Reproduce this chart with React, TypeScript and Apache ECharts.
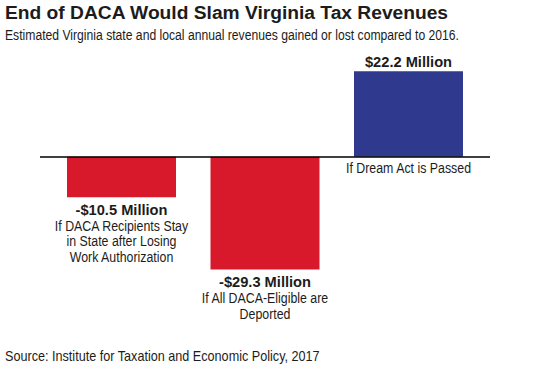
import React, { useEffect, useRef } from "react";
import * as echarts from "echarts";

const categories = [
  "If DACA Recipients Stay\nin State after Losing\nWork Authorization",
  "If All DACA-Eligible are\nDeported",
  "If Dream Act is Passed",
];
const values = [-10.5, -29.3, 22.2];
const valueLabels = ["-$10.5 Million", "-$29.3 Million", "$22.2 Million"];
const barColors = ["#d8192b", "#d8192b", "#2f3a8f"];
const titleText = "End of DACA Would Slam Virginia Tax Revenues";
const subtitleText = "Estimated Virginia state and local annual revenues gained or lost compared to 2016.";
const sourceText = "Source: Institute for Taxation and Economic Policy, 2017";

const FAMILY = "'Liberation Sans', Arial, Helvetica, sans-serif";
const TEXT_COLOR = "#1c1c1c";

function measure(text: string, font: string): number {
  const c = document.createElement("canvas").getContext("2d")!;
  c.font = font;
  return c.measureText(text).width;
}
function fit(text: string, size: number, weight: string, target: number): number {
  const w = measure(text, `${weight} ${size}px ${FAMILY}`);
  return w > 0 ? target / w : 1;
}

export default function App() {
  const ref = useRef<HTMLDivElement>(null);
  useEffect(() => {
    const chart = echarts.init(ref.current!, null, { renderer: "svg" });

    const REG = 14.5;
    const BOLD = 15;
    const regScale = fit("If DACA Recipients Stay", REG, "normal", 134);
    const boldScale = fit("-$10.5 Million", BOLD, "bold", 92);

    const txt = (
      text: string,
      x: number,
      y: number,
      size: number,
      weight: string,
      sx: number,
      align: string
    ) => ({
      type: "text",
      x,
      y,
      scaleX: sx,
      silent: true,
      style: {
        text,
        fontFamily: FAMILY,
        fontSize: size,
        fontWeight: weight,
        fill: TEXT_COLOR,
        align,
        verticalAlign: "middle",
      },
    });

    const renderLabels = (params: any, api: any) => {
      const i = params.dataIndex;
      const xv = api.value(0);
      const yv = api.value(1);
      const end = api.coord([xv, yv]);
      const zero = api.coord([xv, 0]);
      const lines = categories[i].split("\n");
      const children: any[] = [];
      if (yv < 0) {
        const b = end[1] + 12.5;
        children.push(txt(valueLabels[i], end[0], b, BOLD, "bold", boldScale, "center"));
        lines.forEach((l, k) => {
          children.push(txt(l, end[0], b + 16.5 + k * 15.5, REG, "normal", regScale, "center"));
        });
      } else {
        children.push(txt(valueLabels[i], end[0], end[1] - 9, BOLD, "bold", boldScale, "center"));
        lines.forEach((l, k) => {
          children.push(txt(l, zero[0], zero[1] + 11.5 + k * 15.5, REG, "normal", regScale, "center"));
        });
      }
      return { type: "group", children };
    };

    chart.setOption({
      animation: false,
      backgroundColor: "#ffffff",
      graphic: [
        txt(titleText, 5, 13, 19, "bold", fit(titleText, 19, "bold", 444), "left"),
        txt(subtitleText, 5, 35.5, 14.5, "normal", fit(subtitleText, 14.5, "normal", 454), "left"),
        txt(sourceText, 5, 356, 14, "normal", fit(sourceText, 14, "normal", 315), "left"),
      ],
      grid: { left: 40, right: 50, top: 60.45, bottom: 58.3, containLabel: false },
      xAxis: {
        type: "value",
        min: -0.568,
        max: 2.568,
        show: false,
      },
      yAxis: {
        type: "value",
        min: -40,
        max: 25,
        show: false,
        splitLine: { show: false },
      },
      series: [
        {
          type: "bar",
          barWidth: 109,
          data: values.map((v, i) => ({ value: [i, v], itemStyle: { color: barColors[i] } })),
          markLine: {
            silent: true,
            symbol: "none",
            label: { show: false },
            lineStyle: { color: "#000", width: 1.6, type: "solid" },
            data: [{ yAxis: 0 }],
          },
        },
        {
          type: "custom",
          clip: false,
          silent: true,
          renderItem: renderLabels,
          data: values.map((v, i) => [i, v]),
          z: 5,
        },
      ],
    });
    return () => chart.dispose();
  }, []);
  return (
    <div
      ref={ref}
      style={{ width: 540, height: 369, position: "fixed", left: 0, top: 0 }}
    />
  );
}
